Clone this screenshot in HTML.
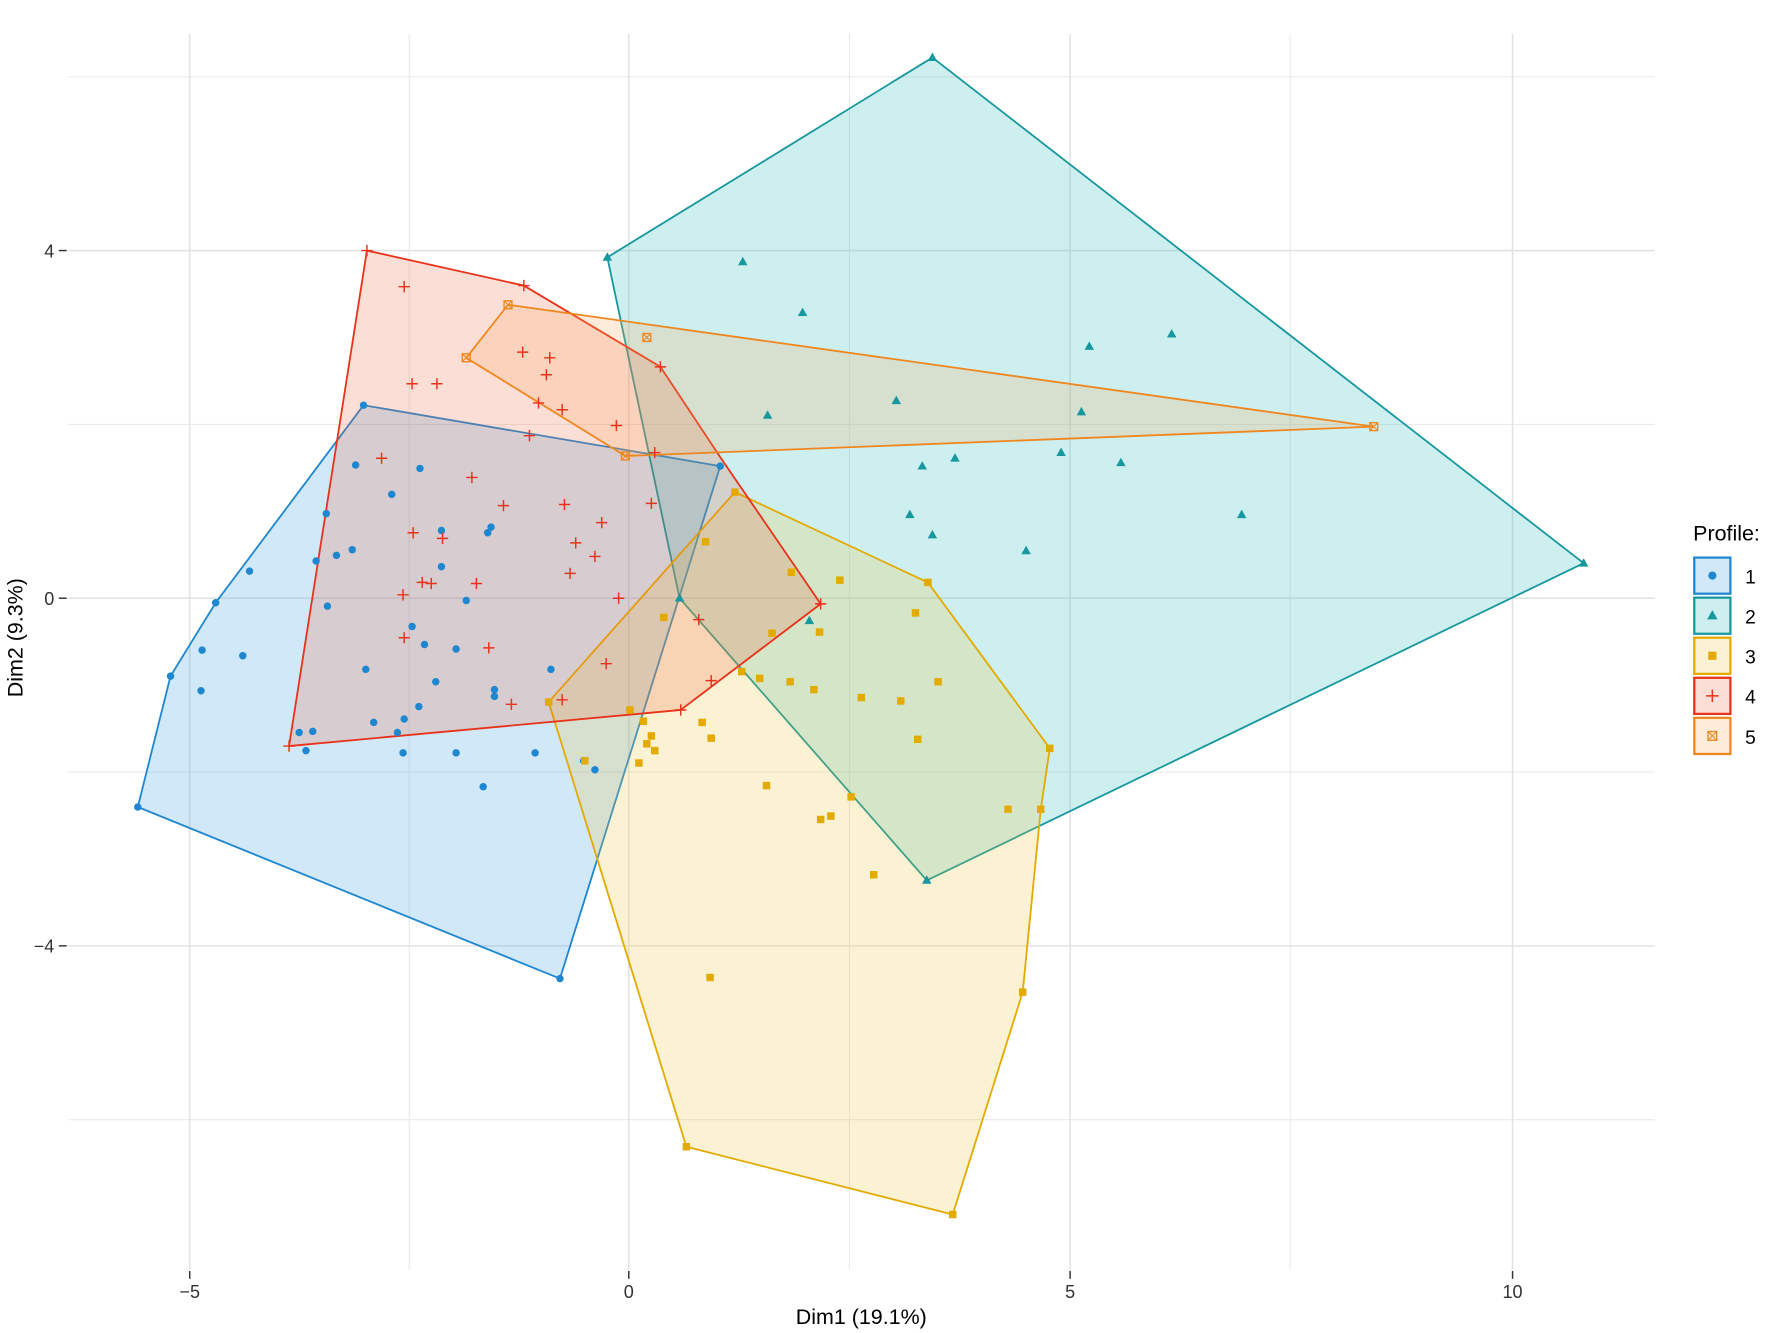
<!DOCTYPE html>
<html><head><meta charset="utf-8"><style>html,body{margin:0;padding:0;background:#fff}svg{display:block}</style></head>
<body>
<svg id="s" width="1770" height="1333" viewBox="0 0 1568 1181" xmlns="http://www.w3.org/2000/svg" font-family="Liberation Sans, sans-serif">
<rect width="1568" height="1181" fill="#fff"/>
<g stroke="#ebebeb" stroke-width="1">
<line x1="60" x2="1466" y1="68" y2="68"/><line x1="60" x2="1466" y1="376" y2="376"/><line x1="60" x2="1466" y1="684" y2="684"/><line x1="60" x2="1466" y1="992" y2="992"/>
<line x1="362.5" x2="362.5" y1="30" y2="1125"/><line x1="752.5" x2="752.5" y1="30" y2="1125"/><line x1="1143" x2="1143" y1="30" y2="1125"/>
</g>
<g stroke="#e3e3e3" stroke-width="1.4">
<line x1="60" x2="1466" y1="222" y2="222"/><line x1="60" x2="1466" y1="530" y2="530"/><line x1="60" x2="1466" y1="838" y2="838"/>
<line x1="168" x2="168" y1="30" y2="1125"/><line x1="557" x2="557" y1="30" y2="1125"/><line x1="948" x2="948" y1="30" y2="1125"/><line x1="1340" x2="1340" y1="30" y2="1125"/>
</g>
<g stroke="#333" stroke-width="1.3">
<line x1="52" x2="59" y1="222" y2="222"/><line x1="52" x2="59" y1="530" y2="530"/><line x1="52" x2="59" y1="838" y2="838"/>
<line x1="168" x2="168" y1="1126" y2="1133"/><line x1="557" x2="557" y1="1126" y2="1133"/><line x1="948" x2="948" y1="1126" y2="1133"/><line x1="1340" x2="1340" y1="1126" y2="1133"/>
</g>
<g font-size="16" fill="#333">
<text x="48" y="228" text-anchor="end">4</text><text x="48" y="536" text-anchor="end">0</text><text x="48" y="844" text-anchor="end">−4</text>
<text x="168" y="1150" text-anchor="middle">−5</text><text x="557" y="1150" text-anchor="middle">0</text><text x="948" y="1150" text-anchor="middle">5</text><text x="1340" y="1150" text-anchor="middle">10</text>
</g>
<text x="763" y="1173" font-size="19" text-anchor="middle" fill="#000">Dim1 (19.1%)</text>
<text transform="translate(20,565) rotate(-90)" font-size="19" text-anchor="middle" fill="#000">Dim2 (9.3%)</text>
<g id="plot"></g>
<text x="1500" y="479" font-size="19" fill="#000">Profile:</text>
<g id="leg"></g>
</svg>
<script>
const NS="http://www.w3.org/2000/svg";
const G=[
{c:"#1F87D0",f:"#2E96DE",m:"c",hull:[[322,359],[638,413],[496,867],[122,715],[151,599],[191,534]],
pts:[[315,412],[372,415],[347,438],[289,455],[391,470],[435,467],[432,472],[312,487],[280,497],[298,492],[391,502],[221,506],[290,537],[413,532],[365,555],[376,571],[404,575],[324,593],[386,604],[438,611],[438,617],[488,593],[371,626],[358,637],[331,640],[265,649],[277,648],[271,665],[352,649],[357,667],[404,667],[474,667],[428,697],[517,674],[527,682],[179,576],[215,581],[178,612],[638,413],[322,359],[496,867],[122,715],[151,599],[191,534]]},
{c:"#16989E",f:"#1FB5BB",m:"t",hull:[[538,228],[826,51],[1403,499],[821,780],[602,530]],
pts:[[658,232],[711,277],[965,307],[1038,296],[794,355],[958,365],[680,368],[940,401],[846,406],[817,413],[993,410],[806,456],[826,474],[1100,456],[909,488],[717,550],[538,228],[826,51],[1403,499],[821,780],[602,530]]},
{c:"#E3AA00",f:"#EDC23A",m:"s",hull:[[651,436],[822,516],[930,663],[922,717],[906,879],[844,1076],[608,1016],[486,622]],
pts:[[625,480],[701,507],[744,514],[811,543],[588,547],[726,560],[684,561],[657,595],[673,601],[700,604],[721,611],[831,604],[763,618],[798,621],[558,629],[570,639],[622,640],[577,652],[630,654],[573,659],[580,665],[813,655],[518,674],[566,676],[679,696],[754,706],[893,717],[736,723],[727,726],[774,775],[629,866],[651,436],[822,516],[930,663],[922,717],[906,879],[844,1076],[608,1016],[486,622]]},
{c:"#E8321A",f:"#EF6B45",m:"p",hull:[[325,222],[464,253],[585,325],[638,405],[727,535],[603,629],[256,661]],
pts:[[358,254],[365,340],[387,340],[463,312],[487,317],[484,332],[477,357],[498,363],[469,386],[546,377],[580,401],[338,406],[418,423],[446,448],[500,447],[577,446],[366,472],[392,477],[533,463],[510,481],[527,493],[505,508],[374,516],[382,517],[422,517],[357,527],[548,530],[358,565],[433,574],[619,549],[537,588],[630,603],[453,624],[498,620],[325,222],[464,253],[585,325],[727,535],[603,629],[256,661]]},
{c:"#F0871E",f:"#F9A75A",m:"x",hull:[[450,270],[1217,378],[554,404],[413,317]],
pts:[[573,299],[450,270],[1217,378],[554,404],[413,317]]}
];
const plot=document.getElementById("plot"),leg=document.getElementById("leg");
function el(p,t,a){const e=document.createElementNS(NS,t);for(const k in a)e.setAttribute(k,a[k]);p.appendChild(e);return e;}
function mark(p,m,x,y,c,k){k=k||1;
 if(m=="c")el(p,"circle",{cx:x,cy:y,r:3.3*k,fill:c});
 else if(m=="t")el(p,"polygon",{points:`${x},${y-4.5*k} ${x-4.2*k},${y+3*k} ${x+4.2*k},${y+3*k}`,fill:c});
 else if(m=="s")el(p,"rect",{x:x-3.3*k,y:y-3.3*k,width:6.6*k,height:6.6*k,fill:c});
 else if(m=="p"){el(p,"path",{d:`M${x-5*k},${y}H${x+5*k}M${x},${y-5*k}V${y+5*k}`,stroke:c,"stroke-width":1.3,fill:"none"});}
 else {el(p,"rect",{x:x-3.5*k,y:y-3.5*k,width:7*k,height:7*k,fill:"none",stroke:c,"stroke-width":1.2});el(p,"path",{d:`M${x-3.5*k},${y-3.5*k}L${x+3.5*k},${y+3.5*k}M${x+3.5*k},${y-3.5*k}L${x-3.5*k},${y+3.5*k}`,stroke:c,"stroke-width":1});}
}
G.forEach(g=>{el(plot,"polygon",{points:g.hull.map(p=>p.join(",")).join(" "),fill:g.f,"fill-opacity":0.22,stroke:g.c,"stroke-width":1.6,"stroke-linejoin":"round"});});
G.forEach(g=>{g.pts.forEach(p=>mark(plot,g.m,p[0],p[1],g.c));});
G.forEach((g,i)=>{const y=494+i*35.5;
 el(leg,"rect",{x:1501,y:y,width:32,height:32,fill:g.f,"fill-opacity":0.22,stroke:g.c,"stroke-width":2});
 mark(leg,g.m,1517,y+16,g.c,1.1);
 const t=el(leg,"text",{x:1546,y:y+23,"font-size":17,fill:"#000"});t.textContent=String(i+1);});
</script>
</body></html>
